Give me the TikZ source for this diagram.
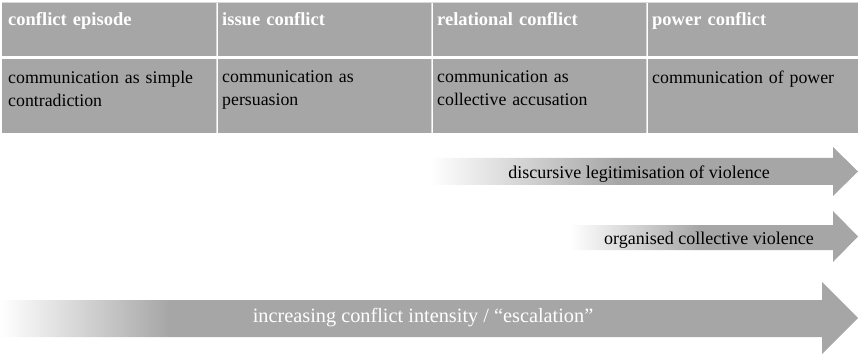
\documentclass[tikz,border=0pt]{standalone}
\usepackage{fontspec}
\setmainfont{Liberation Serif}
\definecolor{cellgray}{HTML}{A6A6A6}
\definecolor{sepgray}{HTML}{D9D9D9}
\pgfdeclarehorizontalshading{fadeA}{100bp}{color(0bp)=(white); color(25bp)=(white); color(47.2bp)=(cellgray); color(100bp)=(cellgray)}
\pgfdeclarehorizontalshading{fadeB}{100bp}{color(0bp)=(white); color(25bp)=(white); color(47.6bp)=(cellgray); color(100bp)=(cellgray)}
\pgfdeclarehorizontalshading{fadeC}{100bp}{color(0bp)=(white); color(25bp)=(white); color(34.9bp)=(cellgray); color(100bp)=(cellgray)}
\begin{document}
\begin{tikzpicture}[x=1pt,y=-1pt]
\tikzset{
  headtext/.style={anchor=north west,inner sep=0pt,text=white,font=\fontsize{18.5}{22}\selectfont\bfseries,align=left,text width=205pt},
  bodytext/.style={anchor=north west,inner sep=0pt,text=black,font=\fontsize{17.8}{23}\selectfont,align=left,text width=208pt},
  arrowtext/.style={inner sep=0pt,font=\fontsize{18}{21}\selectfont},
}
\useasboundingbox (0,0) rectangle (858,355);
% table cells
\foreach \xa/\xb in {2/216,217.5/431,432.5/646,647.5/858}{
  \fill[cellgray] (\xa,3) rectangle (\xb,56);
  \fill[cellgray] (\xa,59) rectangle (\xb,133);
}
\draw[sepgray,line width=1.2pt] (2,2.4) -- (858,2.4);
\foreach \x in {216.75,431.75,646.75}{
  \draw[sepgray,line width=1.2pt] (\x,3) -- (\x,56);
  \draw[sepgray,line width=1.2pt] (\x,59) -- (\x,133);
}
% header texts
\node[headtext] (h1) at (8,12.5) {conflict episode};
\node[headtext] (h2) at (222,12.5) {issue conflict};
\node[headtext] (h3) at (437,12.5) {relational conflict};
\node[headtext] (h4) at (652,12.5) {power conflict};
% body texts
\node[bodytext] (b1) at (8,71) {communication as simple\\contradiction};
\node[bodytext] (b2) at (222,71) {communication as\\persuasion};
\node[bodytext] (b3) at (437,71) {communication as\\collective accusation};
\node[bodytext] (b4) at (652,71) {communication of power};
% arrow 1
\shade[shading=fadeA] (430,158) -- (833,158) -- (833,147) -- (858,171.5) -- (833,196) -- (833,185) -- (430,185) -- cycle;
\node[arrowtext] (t1) at (639,174) {discursive legitimisation of violence};
% arrow 2
\shade[shading=fadeB] (570,225) -- (833,225) -- (833,211) -- (858,236.5) -- (833,262) -- (833,250) -- (570,250) -- cycle;
\node[arrowtext] (t2) at (709,240) {organised collective violence};
% arrow 3
\shade[shading=fadeC] (0,300) -- (822,300) -- (822,282) -- (858,318) -- (822,354) -- (822,337) -- (0,337) -- cycle;
\node[arrowtext,text=white,font=\fontsize{20.3}{24}\selectfont] (t3) at (423,318) {increasing conflict intensity / “escalation”};
\end{tikzpicture}
\end{document}
